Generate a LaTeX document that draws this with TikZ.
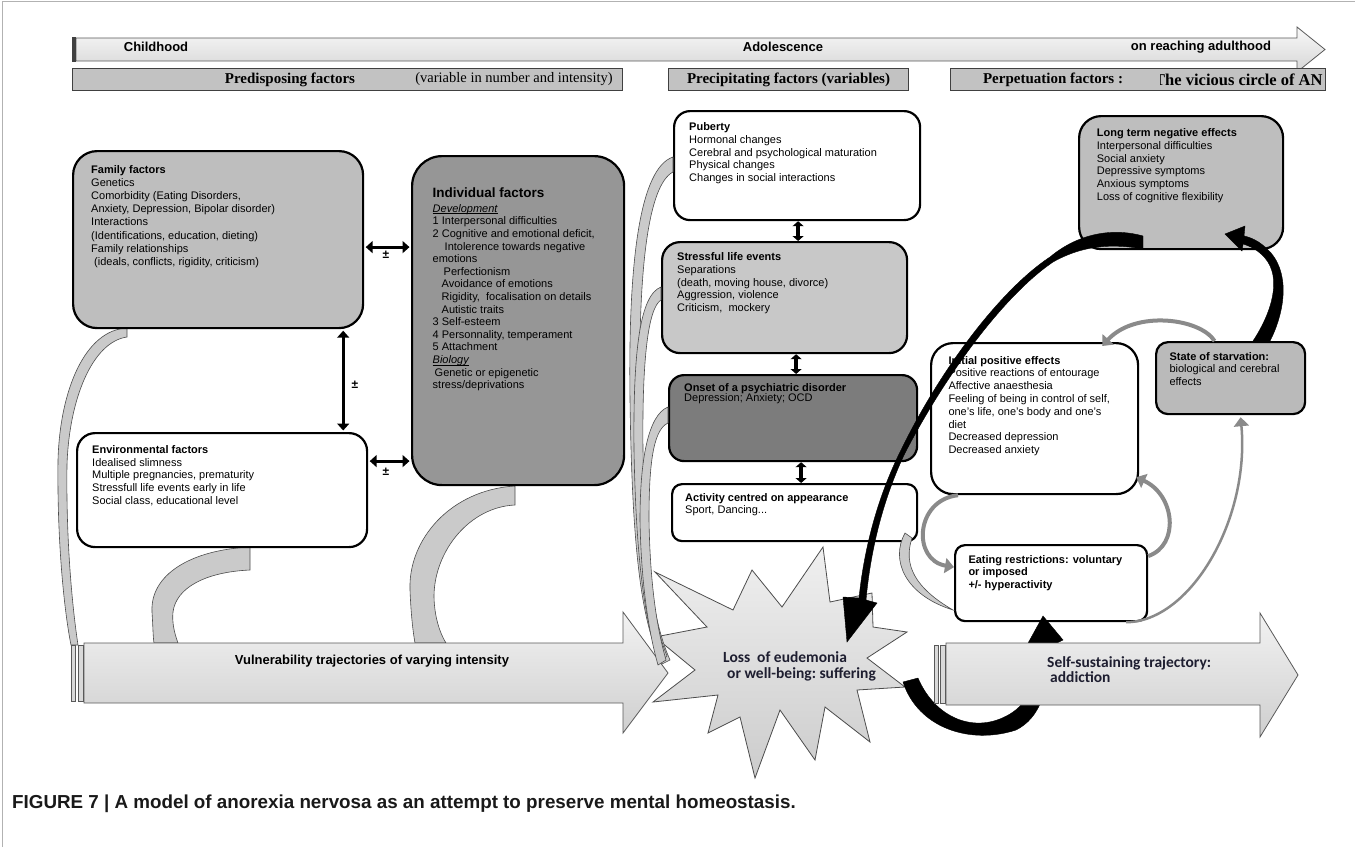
\documentclass[tikz,border=0pt]{standalone}
\usepackage{fontspec}
\setmainfont{Liberation Sans}
\newfontfamily\serifrm{Liberation Serif}
\newfontfamily\califont{Carlito}
\usepackage{tikz}
\usetikzlibrary{positioning}
\usetikzlibrary{arrows.meta}
\tikzset{>={Triangle[length=7pt,width=12pt]}}
\newcommand{\ulword}[1]{\setbox0\hbox{#1}\copy0\llap{\rule[-1.5pt]{\wd0}{0.5pt}}}

\definecolor{famgray}{HTML}{BEBEBE}
\definecolor{indgray}{HTML}{969696}
\definecolor{strgray}{HTML}{C8C8C8}
\definecolor{onsgray}{HTML}{7C7C7C}
\definecolor{ssgray}{HTML}{BABABA}
\definecolor{hdrgray}{HTML}{C2C2C2}
\definecolor{ribgray}{HTML}{CACACA}
\definecolor{arrgray}{HTML}{8A8A8A}
\definecolor{navytext}{HTML}{1E1E30}

\begin{document}
\begin{tikzpicture}[x=1pt,y=-1pt]
      \tikzstyle{rbox} = [draw=black, line width=2.2pt, inner sep=0pt, anchor=north west]
      \tikzstyle{txt} = [anchor=north west, align=left, inner sep=0pt, font=\fontsize{11}{12.7}\selectfont]
      \tikzstyle{hbar} = [draw=black!75, line width=1pt, fill=hdrgray, inner sep=0pt, anchor=north west, minimum height=22pt]
      \tikzstyle{hfont} = [inner sep=0pt, font=\serifrm\bfseries\fontsize{15}{15}\selectfont]
      \tikzstyle{lbl} = [inner sep=0pt, font=\bfseries\fontsize{13}{13}\selectfont]
      \tikzstyle{pmsign} = [inner sep=0pt, font=\bfseries\fontsize{12}{12}\selectfont]
      \tikzstyle{ribbon} = [draw=black!70, line width=0.6pt, fill=ribgray]
      \tikzstyle{trail} = [draw=black!65, line width=0.8pt, top color=gray!10, bottom color=gray!38]
      \tikzstyle{garrow} = [draw=arrgray, line width=4pt, -{Triangle[length=9pt,width=15pt]}]
      \tikzstyle{dbl} = [line width=3pt, <->, shorten >=1.5pt, shorten <=1.5pt]
      \tikzstyle{sdbl} = [line width=4.5pt, {Triangle[length=5pt,width=11pt]}-{Triangle[length=5pt,width=11pt]}]

      \useasboundingbox (0,0) rectangle (1355,847);
      \draw[gray!60, line width=1pt] (2.5,847) -- (2.5,1) -- (1355,1);

      %%%%%%%%%%%%%%%%%%%%%%%%%%%%%%
      %% Time line and header bars
      %%%%%%%%%%%%%%%%%%%%%%%%%%%%%%
      \draw[trail, top color=gray!5, bottom color=gray!32] (76,38) -- (1297,38) -- (1297,27) -- (1325,49.5) -- (1297,72) -- (1297,61) -- (76,61) -- cycle;
      \fill[black!75] (72,37) rectangle (75.5,62);
      \node[lbl] (child) at (156,47) {Childhood};
      \node[lbl] (adol) at (783,47) {Adolescence};
      \node[lbl] (adult) at (1201,47) {on reaching adulthood};

      \node[hbar, minimum width=550pt] (hpre) at (72,68) {};
      \node[hbar, minimum width=240pt] (hprec) at (668,68) {};
      \node[hbar, minimum width=375pt] (hperp) at (950,68) {};
      \node[hfont] (hpret) at (290,79.5) {Predisposing factors};
      \node[hfont, font=\serifrm\fontsize{14.5}{14.5}\selectfont] (hvar) at (514,79.5) {(variable in number and intensity)};
      \node[hfont] (hprect) at (hprec.center) {Precipitating factors (variables)};
      \node[hfont] (hperpt) at (1053,79.5) {Perpetuation factors :};
      \begin{scope}
        \clip (1160,69) rectangle (1324.5,89);
        \node[hfont, font=\serifrm\bfseries\fontsize{16.5}{16.5}\selectfont, anchor=west] (hvic) at (1154,79.5) {The vicious circle of AN};
      \end{scope}

      %%%%%%%%%%%%%%%%%%%%%%%%%%%%%%
      %% Ribbons to the vulnerability trajectory
      %%%%%%%%%%%%%%%%%%%%%%%%%%%%%%
      \filldraw[ribbon] (127,328) .. controls (85,330) and (60,390) .. (58,460) .. controls (57,540) and (64,610) .. (71,645) -- (78,645) .. controls (72,605) and (66,540) .. (67,465) .. controls (69,400) and (92,342) .. (127,337) -- cycle;
      \filldraw[ribbon] (250,547) .. controls (190,550) and (150,575) .. (152,612) .. controls (153,627) and (153,637) .. (154,643) -- (178,643) .. controls (174,632) and (172,622) .. (173,612) .. controls (176,588) and (205,572) .. (250,570) -- cycle;
      \filldraw[ribbon] (515,486) .. controls (450,490) and (408,540) .. (410,590) .. controls (411,615) and (413,632) .. (415,643) -- (446,643) .. controls (438,630) and (434,612) .. (434,595) .. controls (435,550) and (470,507) .. (515,505) -- cycle;

      %%%%%%%%%%%%%%%%%%%%%%%%%%%%%%
      %% Predisposing factors
      %%%%%%%%%%%%%%%%%%%%%%%%%%%%%%
      \node[rbox, fill=famgray, rounded corners=24pt, minimum width=290pt, minimum height=177pt] (fam) at (72,150) {};
      \node[rbox, fill=white, rounded corners=18pt, minimum width=290pt, minimum height=114pt] (env) at (76,432) {};
      \node[rbox, fill=indgray, rounded corners=30pt, minimum width=212pt, minimum height=329pt] (ind) at (411,155) {};

      \node[txt, font=\fontsize{11}{13.2}\selectfont, below right=15pt and 19pt of fam.north west] (famt) {\textbf{Family factors}\\Genetics\\Comorbidity (Eating Disorders,\\Anxiety, Depression, Bipolar disorder)\\Interactions\\(Identifications, education, dieting)\\Family relationships\\\hspace*{3pt}(ideals, conflicts, rigidity, criticism)};
      \node[txt, below right=13.2pt and 16pt of env.north west] (envt) {\textbf{Environmental factors}\\Idealised slimness\\Multiple pregnancies, prematurity\\Stressfull life events early in life\\Social class, educational level};
      \node[txt, font=\bfseries\fontsize{13.5}{13.5}\selectfont, below right=33pt and 21.5pt of ind.north west] (indt) {Individual factors};
      \node[txt, font=\fontsize{11}{12.6}\selectfont, below right=49.2pt and 21.5pt of ind.north west] (indb) {\ulword{\textit{Development}}\\1 Interpersonal difficulties\\2 Cognitive and emotional deficit,\\\hspace*{12pt}Intolerence towards negative\\emotions\\\hspace*{11pt}Perfectionism\\\hspace*{9pt}Avoidance of emotions\\\hspace*{9pt}Rigidity,\ \ focalisation on details\\\hspace*{9pt}Autistic traits\\3 Self-esteem\\4 Personnality, temperament\\5 Attachment\\\ulword{\textit{Biology}}\\\hspace*{2pt}Genetic or epigenetic\\stress/deprivations};

      \coordinate (fi) at ([yshift=-7.5pt]fam.east);
      \coordinate (fe) at ([xshift=-21pt]fam.south east);
      \coordinate (ei) at ([yshift=29pt]env.east);
      \draw[dbl] (fi) -- (fi -| ind.west);
      \draw[dbl] (fe) -- (fe |- env.north);
      \draw[dbl] (ei) -- (ei -| ind.west);
      \node[pmsign] (pm1) at (386,255) {±};
      \node[pmsign] (pm2) at (355,385) {±};
      \node[pmsign] (pm3) at (386,472) {±};

      %%%%%%%%%%%%%%%%%%%%%%%%%%%%%%
      %% Precipitating factors
      %%%%%%%%%%%%%%%%%%%%%%%%%%%%%%
      \node[rbox, fill=white, rounded corners=16pt, minimum width=246pt, minimum height=109pt] (pub) at (673,110) {};
      \node[rbox, fill=strgray, rounded corners=18pt, minimum width=245pt, minimum height=111pt] (stress) at (661,241) {};
      \node[rbox, fill=onsgray, rounded corners=15pt, minimum width=248pt, minimum height=86pt] (onset) at (668,374) {};
      \node[rbox, fill=white, rounded corners=10pt, minimum width=245pt, minimum height=57pt] (act) at (671,483) {};

      \node[txt, below right=12.6pt and 16pt of pub.north west] (pubt) {\textbf{Puberty}\\Hormonal changes\\Cerebral and psychological maturation\\Physical changes\\Changes in social interactions};
      \node[txt, below right=11.6pt and 16pt of stress.north west] (stresst) {\textbf{Stressful life events}\\Separations\\(death, moving house, divorce)\\Aggression, violence\\Criticism,\ \ mockery};
      \node[txt, font=\fontsize{11}{10.4}\selectfont, below right=9.2pt and 16pt of onset.north west] (onsett) {\textbf{Onset of a psychiatric disorder}\\Depression; Anxiety; OCD};
      \node[txt, font=\fontsize{11}{12}\selectfont, below right=10.2pt and 14pt of act.north west] (actt) {\textbf{Activity centred on appearance}\\Sport, Dancing...};

      \coordinate (ps) at ([xshift=1pt]pub.south);
      \coordinate (so) at ([xshift=11.5pt]stress.south);
      \coordinate (oa) at ([xshift=8pt]onset.south);
      \draw[sdbl] (ps) -- (ps |- stress.north);
      \draw[sdbl] (so) -- (so |- onset.north);
      \draw[sdbl] (oa) -- (oa |- act.north);

      %%%%%%%%%%%%%%%%%%%%%%%%%%%%%%
      %% Perpetuation factors
      %%%%%%%%%%%%%%%%%%%%%%%%%%%%%%
      \node[rbox, fill=famgray, rounded corners=22pt, minimum width=204pt, minimum height=133pt] (lt) at (1078,115) {};
      \node[rbox, fill=white, rounded corners=22pt, minimum width=207pt, minimum height=151pt] (init) at (930,342) {};
      \node[rbox, fill=ssgray, rounded corners=12pt, minimum width=149pt, minimum height=72pt] (ss) at (1155,341) {};
      \node[rbox, fill=white, rounded corners=10pt, minimum width=192pt, minimum height=76pt] (eat) at (954,544) {};

      \node[txt, below right=13.6pt and 18.7pt of lt.north west] (ltt) {\textbf{Long term negative effects}\\Interpersonal difficulties\\Social anxiety\\Depressive symptoms\\Anxious symptoms\\Loss of cognitive flexibility};
      \node[txt, font=\fontsize{11}{12.8}\selectfont, below right=13.9pt and 18.3pt of init.north west] (initt) {\textbf{Initial positive effects}\\Positive reactions of entourage\\Affective anaesthesia\\Feeling of being in control of self,\\one's life, one's body and one's\\diet\\Decreased depression\\Decreased anxiety};
      \node[txt, font=\fontsize{11}{12.8}\selectfont, below right=10.9pt and 14.3pt of ss.north west] (sst) {\textbf{State of starvation:}\\biological and cerebral\\effects};
      \node[txt, font=\bfseries\fontsize{11}{12.5}\selectfont, below right=11.2pt and 14.3pt of eat.north west] (eatt) {Eating restrictions: voluntary\\or imposed\\+/- hyperactivity};

      % gray arrows of the vicious circle
      \filldraw[ribbon] (905,533) .. controls (890,560) and (905,595) .. (953,610) .. controls (915,588) and (903,565) .. (912,538) -- cycle;
      \draw[garrow] ([xshift=28pt]init.south west) .. controls (915,500) and (912,560) .. ([yshift=16pt]eat.west);
      \draw[garrow] ([yshift=27pt]eat.east) .. controls (1180,545) and (1175,495) .. ([xshift=-3pt,yshift=18pt]init.south east);
      \draw[garrow, line width=2.5pt] ([xshift=-22pt]eat.south east) .. controls (1190,622) and (1250,520) .. ([xshift=10pt,yshift=-2pt]ss.south);
      \draw[garrow] ([xshift=-16pt]ss.north) .. controls (1200,318) and (1135,310) .. ([xshift=-37pt,yshift=-4pt]init.north east);

      %%%%%%%%%%%%%%%%%%%%%%%%%%%%%%
      %% Trajectories and loss of eudemonia
      %%%%%%%%%%%%%%%%%%%%%%%%%%%%%%
      \draw[trail] (84,643) -- (623,643) -- (623,612) -- (668,673) -- (623,733) -- (623,703) -- (84,703) -- cycle;
      \filldraw[draw=black!65, fill=gray!30, line width=0.6pt] (71,645) rectangle (75,701);
      \filldraw[draw=black!65, fill=gray!30, line width=0.6pt] (78,645) rectangle (83,701);
      \node[lbl] (vult) at (372,661) {Vulnerability trajectories of varying intensity};

      \draw[draw=black!70, line width=0.8pt, top color=gray!12, bottom color=gray!40] (655,572) -- (733,610) -- (752,570) -- (782,607) -- (823,547) -- (830,602) -- (872,593) -- (873,627) -- (907,632) -- (867,658) -- (905,687) -- (857,690) -- (870,742) -- (825,707) -- (815,760) -- (780,710) -- (755,778) -- (740,717) -- (708,733) -- (718,695) -- (653,702) -- (695,670) -- (655,637) -- (707,627) -- cycle;
      \node[anchor=north west, align=left, inner sep=0pt, text=navytext, font=\califont\bfseries\fontsize{15.5}{16.3}\selectfont] (loss) at (723,651) {Loss\ \ of eudemonia\\\hspace*{4pt}or well-being:\ suffering};

      % ribbons from the precipitating factors
      \filldraw[ribbon] (673,157) .. controls (640,168) and (628,260) .. (630,400) .. controls (632,540) and (640,620) .. (662,664) -- (670,660) .. controls (650,615) and (642,540) .. (640,400) .. controls (638,270) and (648,185) .. (673,172) -- cycle;
      \filldraw[ribbon] (661,287) .. controls (640,295) and (633,350) .. (634,450) .. controls (636,560) and (645,625) .. (660,662) -- (667,656) .. controls (652,620) and (645,560) .. (643,450) .. controls (642,360) and (648,308) .. (661,300) -- cycle;
      \filldraw[ribbon] (668,407) .. controls (648,415) and (640,460) .. (640,520) .. controls (641,580) and (648,630) .. (658,665) -- (666,660) .. controls (656,625) and (650,580) .. (649,520) .. controls (649,470) and (652,430) .. (668,423) -- cycle;

      % black arrows
      \filldraw[black] (903,682) .. controls (918,728) and (970,745) .. (1016,730) .. controls (1040,718) and (1049,690) .. (1051,646) -- (1063,640) -- (1043,616) -- (1027,645) -- (1038,646) .. controls (1036,685) and (1028,703) .. (1010,714) .. controls (975,735) and (935,718) .. (918,678) -- cycle;
      \filldraw[black] (1143,236) .. controls (1115,228) and (1080,232) .. (1050,257) .. controls (1000,290) and (940,370) .. (901,450) .. controls (881,490) and (865,540) .. (859,598) -- (843,597) -- (847,642) -- (877,603) -- (866,600) .. controls (871,545) and (885,495) .. (905,453) .. controls (945,376) and (1003,296) .. (1053,262) .. controls (1085,244) and (1115,244) .. (1143,249) -- cycle;
      \filldraw[black] (1253,341) .. controls (1272,312) and (1282,278) .. (1265,258) .. controls (1258,250) and (1250,246) .. (1243,244) -- (1242,251) -- (1225,234) -- (1245,226) -- (1244,236) .. controls (1254,238) and (1263,244) .. (1271,253) .. controls (1292,278) and (1282,318) .. (1270,341) -- cycle;

      \draw[trail] (946,643) -- (1260,643) -- (1260,613) -- (1298,675) -- (1260,737) -- (1260,705) -- (946,705) -- cycle;
      \filldraw[draw=black!65, fill=gray!30, line width=0.6pt] (934,645) rectangle (938,703);
      \filldraw[draw=black!65, fill=gray!30, line width=0.6pt] (940,645) rectangle (945,703);
      \node[anchor=north west, align=left, inner sep=0pt, text=navytext, font=\califont\bfseries\fontsize{15.5}{15}\selectfont] (selft) at (1047,656) {Self-sustaining\ trajectory:\\\hspace*{3pt}addiction};

      %%%%%%%%%%%%%%%%%%%%%%%%%%%%%%
      %% Caption
      %%%%%%%%%%%%%%%%%%%%%%%%%%%%%%
      \node[anchor=west, inner sep=0pt, text=black!90, font=\bfseries\fontsize{18.8}{18.8}\selectfont] (cap) at (12,804) {FIGURE 7 | A model of anorexia nervosa as an attempt to preserve mental homeostasis.};
\end{tikzpicture}
\end{document}
